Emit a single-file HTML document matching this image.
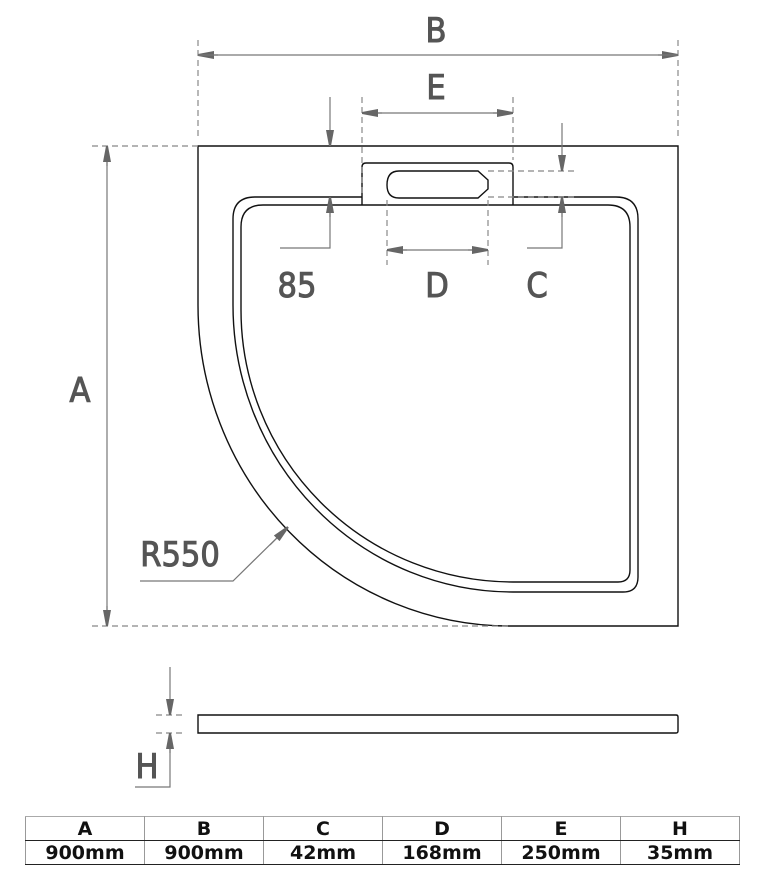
<!DOCTYPE html>
<html><head><meta charset="utf-8"><style>
html,body{margin:0;padding:0;background:#fff;width:762px;height:886px;overflow:hidden}
svg{position:absolute;left:0;top:0}
.lbl{font-family:"DejaVu Sans Condensed","DejaVu Sans",sans-serif;font-size:34px;fill:#555;stroke:#555;stroke-width:1}
table{position:absolute;left:25px;top:816px;border-collapse:collapse;font-family:"DejaVu Sans",sans-serif;font-weight:bold;font-size:19px;color:#111}
td{width:118px;text-align:center;height:23px;padding:0;border-left:1px solid #999;border-right:1px solid #999}
tr.h td{border-top:1px solid #aaa;border-bottom:1.5px solid #222}
tr.v td{border-bottom:1.5px solid #222}
</style></head><body>
<svg width="762" height="886" viewBox="0 0 762 886">
<defs>
<marker id="ar" viewBox="0 0 16 10" refX="16" refY="5" markerWidth="16" markerHeight="10" orient="auto" markerUnits="userSpaceOnUse"><path d="M0,1 L16,4 L16,6 L0,9 Z" fill="#666"/></marker>
</defs>
<g fill="none" stroke="#111" stroke-width="1.4">
<path d="M198,146 L678,146 L678,626 L510,626 A312 321 0 0 1 198,305 Z"/>
<path d="M362,197 L255,197 Q233,197 233,219 L233,305 A280 287 0 0 0 513,592 L623,592 Q638,592 638,577 L638,219 Q638,197 616,197 L513,197"/>
<path d="M241,227 Q241,205 263,205 L608,205 Q630,205 630,227 L630,570 Q630,582 618,582 L513,582 A272 272 0 0 1 241,310 Z"/>
<path d="M362,205 L362,167 Q362,163 366,163 L509,163 Q513,163 513,167 L513,205"/>
<path d="M399,171 L478,171 L488,180 L488,189 L478,198 L399,198 Q387,198 387,185 Q387,171 399,171 Z"/>
<path d="M198,715 L676,715 Q678,715 678,717 L678,731 Q678,733 676,733 L198,733 Z"/>
</g>
<g fill="none" stroke="#888" stroke-width="1.2" stroke-dasharray="6,4">
<path d="M198,40 V140 M678,40 V140 M362,97 V195 M513,97 V160 M92,146 H198 M92,626 H510 M387,200 V265 M488,200 V265 M488,171 H577 M488,197 H577 M156,715 H186 M156,733 H186"/>
</g>
<g fill="none" stroke="#777" stroke-width="1.2">
<line x1="218" y1="55" x2="198" y2="55" marker-end="url(#ar)"/>
<line x1="658" y1="55" x2="678" y2="55" marker-end="url(#ar)"/>
<line x1="198" y1="55" x2="678" y2="55"/>
<line x1="362" y1="113" x2="513" y2="113"/>
<line x1="382" y1="113" x2="362" y2="113" marker-end="url(#ar)"/>
<line x1="493" y1="113" x2="513" y2="113" marker-end="url(#ar)"/>
<line x1="107" y1="146" x2="107" y2="626"/>
<line x1="107" y1="166" x2="107" y2="146" marker-end="url(#ar)"/>
<line x1="107" y1="606" x2="107" y2="626" marker-end="url(#ar)"/>
<line x1="330" y1="97" x2="330" y2="146" marker-end="url(#ar)"/>
<path d="M280,248 H330 V197"/>
<line x1="330" y1="217" x2="330" y2="197" marker-end="url(#ar)"/>
<line x1="387" y1="250" x2="488" y2="250"/>
<line x1="407" y1="250" x2="387" y2="250" marker-end="url(#ar)"/>
<line x1="468" y1="250" x2="488" y2="250" marker-end="url(#ar)"/>
<line x1="562" y1="123" x2="562" y2="171" marker-end="url(#ar)"/>
<path d="M527,248 H562 V197"/>
<line x1="562" y1="217" x2="562" y2="197" marker-end="url(#ar)"/>
<path d="M140,581 H233 L288,527"/>
<line x1="270" y1="545" x2="288" y2="527" marker-end="url(#ar)"/>
<line x1="170" y1="667" x2="170" y2="715" marker-end="url(#ar)"/>
<path d="M135,787 H170 V733"/>
<line x1="170" y1="753" x2="170" y2="733" marker-end="url(#ar)"/>
</g>
<g class="lbl" text-anchor="middle">
<text x="436" y="42">B</text>
<text x="436" y="99">E</text>
<text x="80" y="402">A</text>
<text x="297" y="297">85</text>
<text x="437" y="297">D</text>
<text x="537" y="297">C</text>
<text x="180" y="566">R550</text>
<text x="147" y="778">H</text>
</g>
</svg>
<table>
<tr class="h"><td>A</td><td>B</td><td>C</td><td>D</td><td>E</td><td>H</td></tr>
<tr class="v"><td>900mm</td><td>900mm</td><td>42mm</td><td>168mm</td><td>250mm</td><td>35mm</td></tr>
</table>
</body></html>
